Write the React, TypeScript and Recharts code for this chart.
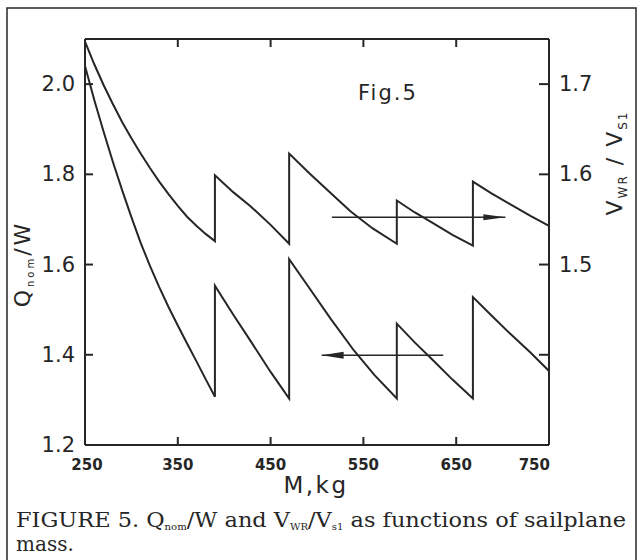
import React from "react";
import { LineChart, Line, XAxis, YAxis } from "recharts";

// tick values
const massTicks = [250, 350, 450, 550, 650, 750];
const qTicks = [1.2, 1.4, 1.6, 1.8, 2.0];
const vTicks = [1.4, 1.5, 1.6, 1.7];

// V_WR / V_S1 (right axis)
const vMass = [250, 260, 270, 280, 290, 300, 310, 320, 330, 340, 350, 360, 370, 380, 390, 390, 410, 428, 450, 470, 470, 492, 515, 536, 560, 586, 586, 605, 625, 646, 668, 668, 688, 708, 730, 750];
const vRatio = [1.747, 1.722, 1.699, 1.678, 1.658, 1.64, 1.623, 1.607, 1.592, 1.578, 1.565, 1.553, 1.543, 1.534, 1.526, 1.599, 1.58, 1.565, 1.544, 1.523, 1.623, 1.601, 1.579, 1.559, 1.54, 1.523, 1.571, 1.558, 1.546, 1.533, 1.521, 1.592, 1.579, 1.567, 1.554, 1.543];

// Q_nom / W (left axis)
const qMass = [250, 260, 270, 280, 290, 300, 310, 320, 330, 340, 350, 360, 370, 380, 390, 390, 410, 428, 450, 470, 470, 490, 515, 540, 562, 586, 586, 605, 625, 646, 668, 668, 688, 708, 730, 750];
const qRatio = [2.04, 1.965, 1.895, 1.828, 1.765, 1.705, 1.648, 1.597, 1.55, 1.506, 1.465, 1.425, 1.386, 1.346, 1.307, 1.553, 1.488, 1.432, 1.362, 1.303, 1.612, 1.553, 1.479, 1.409, 1.355, 1.303, 1.469, 1.428, 1.388, 1.345, 1.303, 1.528, 1.487, 1.447, 1.405, 1.364];

// arrows pointing to the matching axis
const arrowVMass = [516, 703];
const arrowVLevel = 1.705;
const arrowQMass = [505, 636];
const arrowQLevel = 1.399;

const vData = vMass.map((m, i) => ({ m, v: vRatio[i] }));
const qData = qMass.map((m, i) => ({ m, q: qRatio[i] }));
const arrowVData = arrowVMass.map((m) => ({ m, a: arrowVLevel }));
const arrowQData = arrowQMass.map((m) => ({ m, a: arrowQLevel }));

const ink = "#262626";
const sans = "DejaVu Sans, sans-serif";
const serif = "DejaVu Serif, serif";

const LeftTick = (props: any) => {
  const { x, y, payload } = props;
  return (
    <g>
      <line x1={x} x2={x + 8} y1={y} y2={y} stroke={ink} strokeWidth={2} />
      <text x={x - 10} y={y} dy={7} textAnchor="end" fontFamily={sans} fontSize={21} fill={ink}>
        {Number(payload.value).toFixed(1)}
      </text>
    </g>
  );
};

const RightTick = (props: any) => {
  const { x, y, payload } = props;
  return (
    <g>
      <line x1={x} x2={x - 10} y1={y} y2={y} stroke={ink} strokeWidth={2} />
      {payload.value !== 1.4 && (
        <text x={x + 10} y={y} dy={7} textAnchor="start" fontFamily={sans} fontSize={21} fill={ink}>
          {Number(payload.value).toFixed(1)}
        </text>
      )}
    </g>
  );
};

const BottomTick = (props: any) => {
  const { x, y, payload } = props;
  const edge = payload.value === 250 || payload.value === 750;
  return (
    <g>
      {!edge && <line x1={x} x2={x} y1={y} y2={y - 8} stroke={ink} strokeWidth={2} />}
      <text
        x={payload.value === 750 ? x + 1 : payload.value === 250 ? x + 2 : x}
        y={y + 25}
        textAnchor={payload.value === 750 ? "end" : "middle"}
        fontFamily={sans}
        fontWeight="bold"
        fontSize={15}
        fill={ink}
      >
        {payload.value}
      </text>
    </g>
  );
};

const TopTick = (props: any) => {
  const { x, y, payload } = props;
  if (payload.value === 250 || payload.value === 750) return <g />;
  return <line x1={x} x2={x} y1={y} y2={y + 8} stroke={ink} strokeWidth={2} />;
};

const headRight = (p: any) =>
  p.index === 1 ? (
    <polygon key="hr" points={`${p.cx},${p.cy} ${p.cx - 22},${p.cy - 3} ${p.cx - 22},${p.cy + 3}`} fill={ink} />
  ) : (
    <g key={`hr${p.index}`} />
  );

const headLeft = (p: any) =>
  p.index === 0 ? (
    <polygon key="hl" points={`${p.cx},${p.cy} ${p.cx + 22},${p.cy - 3.5} ${p.cx + 22},${p.cy + 3.5}`} fill={ink} />
  ) : (
    <g key={`hl${p.index}`} />
  );

export default function App() {
  return (
    <div style={{ position: "absolute", left: 0, top: 0, width: 644, height: 560, background: "#fff" }}>
      <LineChart width={644} height={560} margin={{ top: 9, right: 0, bottom: 55, left: 0 }}>
        <XAxis
          dataKey="m"
          type="number"
          domain={[250, 750]}
          ticks={massTicks}
          interval={0}
          height={60}
          tickSize={0}
          tickMargin={0}
          tick={<BottomTick />}
          axisLine={{ stroke: ink, strokeWidth: 2 }}
          tickLine={false}
          allowDataOverflow
        />
        <XAxis
          xAxisId="top"
          orientation="top"
          dataKey="m"
          type="number"
          domain={[250, 750]}
          ticks={massTicks}
          interval={0}
          height={30}
          tickSize={0}
          tickMargin={0}
          tick={<TopTick />}
          axisLine={{ stroke: ink, strokeWidth: 2 }}
          tickLine={false}
          allowDataOverflow
        />
        <YAxis
          yAxisId="left"
          type="number"
          domain={[1.2, 2.1]}
          ticks={qTicks}
          interval={0}
          width={85}
          tickSize={0}
          tickMargin={0}
          tick={<LeftTick />}
          axisLine={{ stroke: ink, strokeWidth: 2 }}
          tickLine={false}
          allowDataOverflow
        />
        <YAxis
          yAxisId="right"
          orientation="right"
          type="number"
          domain={[1.3, 1.75]}
          ticks={vTicks}
          interval={0}
          width={95}
          tickSize={0}
          tickMargin={0}
          tick={<RightTick />}
          axisLine={{ stroke: ink, strokeWidth: 2 }}
          tickLine={false}
          allowDataOverflow
        />
        <Line data={vData} dataKey="v" yAxisId="right" type="linear" stroke={ink} strokeWidth={2} dot={false} activeDot={false} isAnimationActive={false} />
        <Line data={qData} dataKey="q" yAxisId="left" type="linear" stroke={ink} strokeWidth={2} dot={false} activeDot={false} isAnimationActive={false} />
        <Line data={arrowVData} dataKey="a" xAxisId="top" yAxisId="left" type="linear" stroke={ink} strokeWidth={1.4} dot={headRight} activeDot={false} isAnimationActive={false} />
        <Line data={arrowQData} dataKey="a" xAxisId="top" yAxisId="left" type="linear" stroke={ink} strokeWidth={1.4} dot={headLeft} activeDot={false} isAnimationActive={false} />
      </LineChart>
      <svg width={644} height={560} style={{ position: "absolute", left: 0, top: 0, pointerEvents: "none" }}>
        <rect x={7} y={8} width={629} height={570} fill="none" stroke={ink} strokeWidth={1.5} />
        <text x={358} y={100} fontFamily={sans} fontSize={21} letterSpacing={2} fill={ink}>
          Fig.5
        </text>
        <text x={316} y={493} textAnchor="middle" fontFamily={sans} fontSize={23} letterSpacing={2.5} fill={ink}>
          M,kg
        </text>
        <text transform="translate(30,264) rotate(-90)" textAnchor="middle" fontFamily={sans} fontSize={22} letterSpacing={3} fill={ink}>
          <tspan>Q</tspan>
          <tspan fontSize={10} dy={4}>nom</tspan>
          <tspan dy={-4}>/W</tspan>
        </text>
        <text transform="translate(622,163) rotate(-90)" textAnchor="middle" fontFamily={sans} fontSize={22} letterSpacing={2} fill={ink}>
          <tspan>V</tspan>
          <tspan fontSize={12} dy={5}>WR</tspan>
          <tspan dy={-5}> / V</tspan>
          <tspan fontSize={12} dy={5}>S1</tspan>
        </text>
        <text x={16} y={527} fontFamily={serif} fontSize={20} fill={ink} textLength={610} lengthAdjust="spacingAndGlyphs">
          <tspan>FIGURE 5. Q</tspan>
          <tspan fontSize={9} dy={3}>nom</tspan>
          <tspan dy={-3}>/W and V</tspan>
          <tspan fontSize={9} dy={3}>WR</tspan>
          <tspan dy={-3}>/V</tspan>
          <tspan fontSize={9} dy={3}>s1</tspan>
          <tspan dy={-3}> as functions of sailplane</tspan>
        </text>
        <text x={16} y={551} fontFamily={serif} fontSize={20} fill={ink}>
          mass.
        </text>
      </svg>
    </div>
  );
}
